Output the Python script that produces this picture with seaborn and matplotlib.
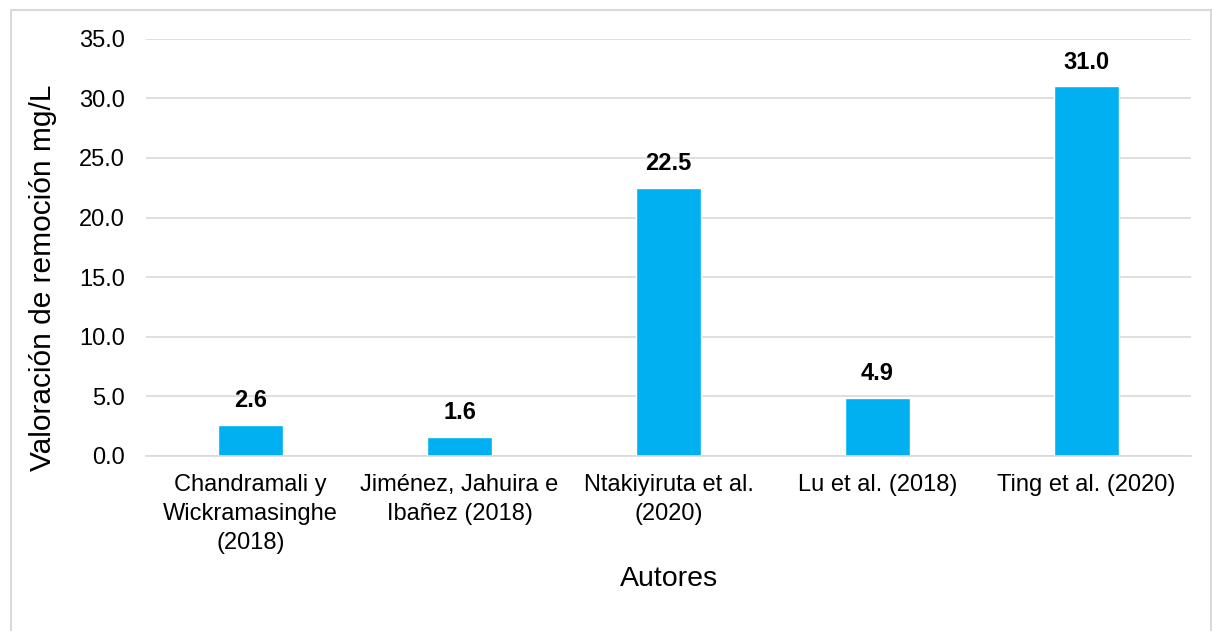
import matplotlib
matplotlib.use("Agg")
import matplotlib.pyplot as plt
import seaborn as sns
import pandas as pd
from matplotlib.patches import Rectangle

autores = ["Chandramali y\nWickramasinghe\n(2018)",
           "Jiménez, Jahuira e\nIbañez (2018)",
           "Ntakiyiruta et al.\n(2020)",
           "Lu et al. (2018)",
           "Ting et al. (2020)"]
valores = [2.6, 1.6, 22.5, 4.9, 31.0]
yticks = [0, 5, 10, 15, 20, 25, 30, 35]

sns.set_theme(style="white")
plt.rcParams['font.family'] = ['Liberation Sans', 'DejaVu Sans']
plt.rcParams['text.color'] = 'black'
plt.rcParams['axes.labelcolor'] = 'black'
plt.rcParams['xtick.color'] = 'black'
plt.rcParams['ytick.color'] = 'black'

df = pd.DataFrame({"Autores": autores, "Valor": valores})

fig = plt.figure(figsize=(12.12, 6.31), dpi=100)
ax = fig.add_axes([146/1212, 1-456/631, (1191-146)/1212, (456-38.7)/631])

sns.barplot(data=df, x="Autores", y="Valor", color="#00B0F0", width=0.313,
            saturation=1, ax=ax, zorder=3)

ax.set_ylim(0, 35)
ax.set_xlim(-0.5, 4.5)
ax.set_yticks(yticks)
ax.set_yticklabels([f"{v:.1f}" for v in yticks], fontsize=17)
ax.set_xticks(range(len(autores)))
ax.set_xticklabels(autores, fontsize=17, linespacing=1.4)
ax.tick_params(axis='x', length=0, pad=13, labelcolor='black')
ax.tick_params(axis='y', length=0, pad=15, labelcolor='black')
ax.yaxis.grid(True, color="#D9D9D9", linewidth=1.2, zorder=0)
ax.xaxis.grid(False)
for s in ["top", "right", "left"]:
    ax.spines[s].set_visible(False)
ax.spines["bottom"].set_color("#D9D9D9")
ax.spines["bottom"].set_linewidth(1.2)
ax.spines["bottom"].set_zorder(4)

for i, v in enumerate(valores):
    ax.text(i, v + 1.5, f"{v:.1f}", ha="center", va="baseline",
            fontsize=17, fontweight="bold", color="black")

ax.set_ylabel("Valoración de remoción mg/L", fontsize=21.5, labelpad=14, color="black")
ax.yaxis.set_label_coords(-0.085, 0.427)
ax.set_xlabel("Autores", fontsize=20.5, labelpad=9, color="black")

fig.patches.append(Rectangle((11/1212, -0.1), (1211-11)/1212, 1.1 - 9.5/631,
                             transform=fig.transFigure, fill=False,
                             edgecolor="#D9D9D9", linewidth=1.5))

fig.savefig("out.png", dpi=100)
